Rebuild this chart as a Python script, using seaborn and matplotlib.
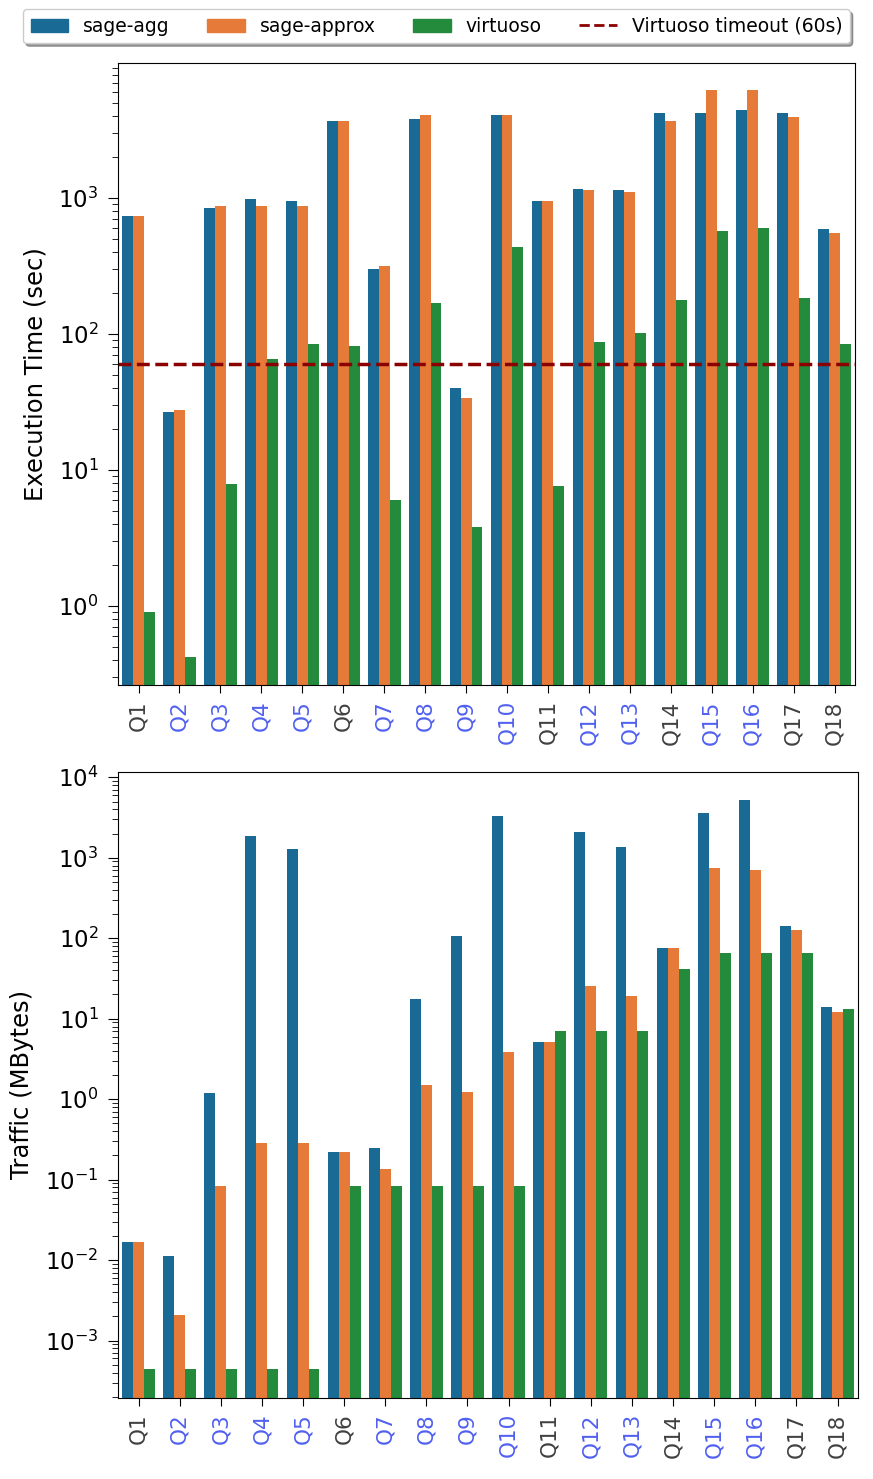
import pandas as pd
import matplotlib
matplotlib.use("Agg")
import matplotlib.pyplot as plt
import matplotlib.patches as mpatches
import matplotlib.lines as mlines
import seaborn as sns

# Queries and systems
queries = ["Q%d" % i for i in range(1, 19)]
systems = ["sage-agg", "sage-approx", "virtuoso"]
blue_queries = ["Q2", "Q3", "Q4", "Q5", "Q7", "Q8", "Q9", "Q10", "Q12", "Q13", "Q15", "Q16"]

# Execution time (sec)
time_agg = [741, 26.6, 841, 972, 946, 3680, 299, 3785, 40.3, 4030, 946, 1165, 1140, 4170, 4170, 4415, 4170, 586]
time_approx = [741, 27.4, 870, 870, 870, 3680, 318, 4030, 33.7, 4030, 946, 1140, 1110, 3680, 6150, 6150, 3890, 551]
time_virtuoso = [0.91, 0.42, 7.85, 65.5, 84, 81, 5.98, 168, 3.79, 432, 7.58, 86.5, 101, 179, 566, 603, 184, 84]

# Traffic (MBytes)
traffic_agg = [0.017, 0.0114, 1.21, 1860, 1295, 0.223, 0.247, 17.7, 108, 3330, 5.17, 2090, 1364, 75.2, 3650, 5240, 140, 14.0]
traffic_approx = [0.017, 0.00206, 0.083, 0.289, 0.289, 0.223, 0.135, 1.51, 1.23, 3.84, 5.17, 25.7, 19.1, 75.2, 752, 705, 128, 12.0]
traffic_virtuoso = [0.00045, 0.00045, 0.00045, 0.00045, 0.00045, 0.083, 0.083, 0.083, 0.083, 0.083, 7.05, 7.05, 7.05, 41.5, 65.3, 65.3, 65.3, 13.1]

timeout = 60

colors = ["#1a6a96", "#e67a38", "#238b3b"]
palette = dict(zip(systems, colors))


def long_df(a, b, c):
    rows = []
    for name, vals in zip(systems, [a, b, c]):
        for q, v in zip(queries, vals):
            rows.append({"query": q, "system": name, "value": v})
    return pd.DataFrame(rows)


df_time = long_df(time_agg, time_approx, time_virtuoso)
df_traffic = long_df(traffic_agg, traffic_approx, traffic_virtuoso)

fig = plt.figure(figsize=(8.73, 14.79), dpi=100)
ax1 = fig.add_axes([0.1352, 0.5369, 0.8442, 0.4206])
ax2 = fig.add_axes([0.1352, 0.0548, 0.8477, 0.4233])

for ax, df, ylabel, ylim in [
    (ax1, df_time, "Execution Time (sec)", (0.264, 9800)),
    (ax2, df_traffic, "Traffic (MBytes)", (1.94e-4, 11670)),
]:
    sns.barplot(data=df, x="query", y="value", hue="system", order=queries,
                hue_order=systems, palette=palette, saturation=1,
                legend=False, ax=ax, linewidth=0, errorbar=None)
    ax.set_yscale("log")
    ax.set_ylim(*ylim)
    ax.set_xlim(-0.5, len(queries) - 0.5)
    ax.set_xlabel("")
    ax.set_ylabel(ylabel, fontsize=17.5, labelpad=8)
    ax.tick_params(axis="y", labelsize=16.5, length=7, pad=7)
    ax.tick_params(axis="y", which="minor", length=4)
    ax.tick_params(axis="x", labelsize=15.5, length=6, pad=5)
    for lbl in ax.get_xticklabels():
        lbl.set_rotation(90)
        lbl.set_color("#5060f0" if lbl.get_text() in blue_queries else "#404040")

ax1.axhline(timeout, color="#8b0000", linestyle="--", linewidth=2.5)

handles = [mpatches.Patch(color=palette[s], label=s) for s in systems]
handles.append(mlines.Line2D([], [], color="#8b0000", linestyle="--", linewidth=2,
                             label="Virtuoso timeout (60s)"))
fig.legend(handles=handles, loc="upper center", bbox_to_anchor=(0.5, 1.0),
           ncol=4, fontsize=13.5, shadow=True, frameon=True)

fig.savefig("out.png", dpi=100)
